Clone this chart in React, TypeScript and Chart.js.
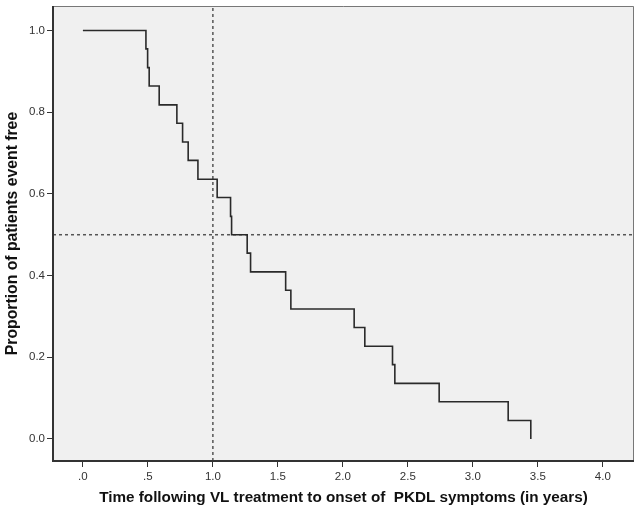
import { useEffect, useRef } from "react"
import Chart from "chart.js/auto"

// tiempos de evento (años) y proporción libre de evento
const eventTimes = [
  0, 0.485, 0.498, 0.51, 0.587, 0.723, 0.767, 0.81, 0.885, 1.033, 1.136, 1.144,
  1.264, 1.29, 1.56, 1.6, 2.087, 2.169, 2.382, 2.4, 2.741, 3.272, 3.446,
]
const survival = [
  1.0, 0.955, 0.909, 0.864, 0.818, 0.773, 0.727, 0.682, 0.636, 0.591, 0.545, 0.5,
  0.455, 0.409, 0.364, 0.318, 0.273, 0.227, 0.182, 0.136, 0.091, 0.045, 0.0,
]
const xTicks = [0, 0.5, 1, 1.5, 2, 2.5, 3, 3.5, 4]
const yTicks = [0, 0.2, 0.4, 0.6, 0.8, 1.0]
const refTime = 1.0
const refProportion = 0.5

const X_MIN = -0.23
const X_MAX = 4.24
const Y_MIN = -0.054
const Y_MAX = 1.06

function xLabel(v: number): string {
  const s = v.toFixed(1)
  return s.startsWith("0") ? s.slice(1) : s
}

const framePlugin = {
  id: "frame",
  beforeDraw(chart: any) {
    const { ctx, chartArea } = chart
    ctx.save()
    ctx.fillStyle = "#f0f0f0"
    ctx.fillRect(chartArea.left, chartArea.top, chartArea.width, chartArea.height)
    ctx.restore()
  },
  afterDraw(chart: any) {
    const { ctx, chartArea } = chart
    const { left, right, top, bottom } = chartArea
    ctx.save()
    ctx.strokeStyle = "#777"
    ctx.lineWidth = 1
    ctx.beginPath()
    ctx.moveTo(left, top + 0.5)
    ctx.lineTo(right - 0.5, top + 0.5)
    ctx.lineTo(right - 0.5, bottom)
    ctx.stroke()
    ctx.strokeStyle = "#333"
    ctx.lineWidth = 2
    ctx.beginPath()
    ctx.moveTo(left, top)
    ctx.lineTo(left, bottom)
    ctx.lineTo(right, bottom)
    ctx.stroke()
    ctx.restore()
  },
}

export default function App() {
  const chartRef = useRef<HTMLCanvasElement>(null)
  const chartInstance = useRef<Chart>()

  useEffect(() => {
    if (!chartRef.current) return
    if (chartInstance.current) chartInstance.current.destroy()

    const family = "'Liberation Sans', Arial, sans-serif"
    const tickFont = { family, size: 11.5 }

    chartInstance.current = new Chart(chartRef.current, {
      type: "scatter",
      data: {
        datasets: [
          {
            label: "KM",
            data: eventTimes.map((t, i) => ({ x: t, y: survival[i] })),
            showLine: true,
            stepped: true,
            borderColor: "#2a2a2a",
            borderWidth: 1.6,
            pointRadius: 0,
          },
          {
            label: "ref-x",
            data: [
              { x: refTime, y: Y_MIN },
              { x: refTime, y: Y_MAX },
            ],
            showLine: true,
            borderColor: "#555",
            borderWidth: 1.5,
            borderDash: [3, 3],
            pointRadius: 0,
          },
          {
            label: "ref-y",
            data: [
              { x: X_MIN, y: refProportion },
              { x: X_MAX, y: refProportion },
            ],
            showLine: true,
            borderColor: "#555",
            borderWidth: 1.5,
            borderDash: [3, 3],
            pointRadius: 0,
          },
        ],
      },
      options: {
        animation: false,
        responsive: true,
        maintainAspectRatio: false,
        layout: { padding: { top: 6, right: 8, left: 0, bottom: 0 } },
        plugins: {
          legend: { display: false },
          tooltip: { enabled: false },
        },
        scales: {
          x: {
            type: "linear",
            min: X_MIN,
            max: X_MAX,
            afterBuildTicks: (scale: any) => {
              scale.ticks = xTicks.map((v) => ({ value: v }))
            },
            afterFit: (scale: any) => {
              scale.height = 56
              scale.paddingLeft = 0
              scale.paddingRight = 0
            },
            ticks: {
              color: "#333",
              font: tickFont,
              padding: 3,
              maxRotation: 0,
              callback: (v: any) => xLabel(Number(v)),
            },
            grid: { drawOnChartArea: false, drawTicks: true, tickLength: 6, color: "#333" },
            border: { display: false },
            title: {
              display: true,
              text: "Time following VL treatment to onset of  PKDL symptoms (in years)",
              color: "#111",
              font: { family, size: 15.25, weight: "bold" as const },
              padding: { top: 4, bottom: 10 },
            },
          },
          y: {
            type: "linear",
            min: Y_MIN,
            max: Y_MAX,
            afterBuildTicks: (scale: any) => {
              scale.ticks = yTicks.map((v) => ({ value: v }))
            },
            afterFit: (scale: any) => {
              scale.width = 53
              scale.paddingTop = 0
              scale.paddingBottom = 0
            },
            ticks: {
              color: "#333",
              font: tickFont,
              padding: 2,
              callback: (v: any) => Number(v).toFixed(1),
            },
            grid: { drawOnChartArea: false, drawTicks: true, tickLength: 6, color: "#333" },
            border: { display: false },
            title: {
              display: true,
              text: "Proportion of patients event free",
              color: "#111",
              font: { family, size: 15.75, weight: "bold" as const },
              padding: { top: 3, bottom: 4 },
            },
          },
        },
      },
      plugins: [framePlugin],
    })

    return () => {
      if (chartInstance.current) {
        chartInstance.current.destroy()
        chartInstance.current = undefined
      }
    }
  }, [])

  return (
    <div style={{ position: "absolute", left: 0, top: 0, width: 642, height: 517, background: "#fff" }}>
      <canvas ref={chartRef}></canvas>
    </div>
  )
}
